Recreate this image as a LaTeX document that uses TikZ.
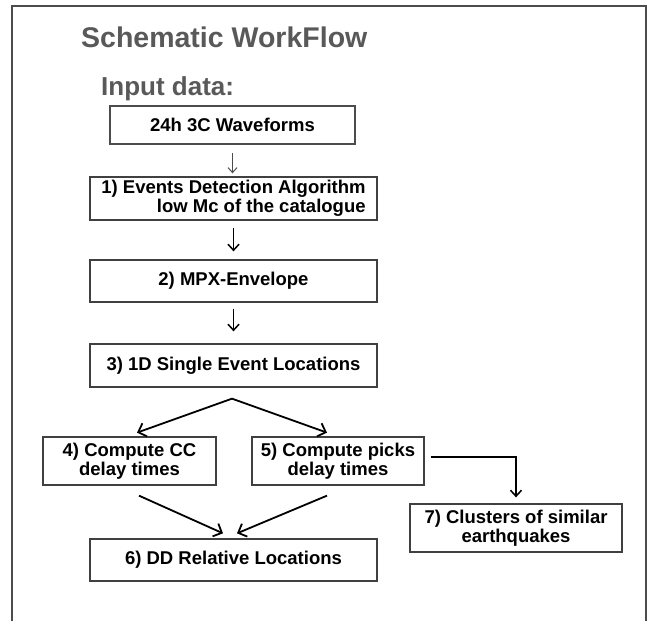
\documentclass[tikz,border=0pt]{standalone}
\usepackage{fontspec}
\setmainfont{Liberation Sans}
\usetikzlibrary{calc,arrows.meta}

\begin{document}
\begin{tikzpicture}[x=1pt,y=-1pt,
  box/.style={draw=black!75,line width=1.3pt,inner sep=0pt,align=center,
    font=\fontsize{18.5}{19.5}\selectfont\bfseries},
  head/.style={text=black!65,inner sep=0pt,anchor=base west,
    font=\fontsize{28.5}{30}\selectfont\bfseries},
  arr/.style={line width=1.5pt,-{Straight Barb[length=6pt,width=11pt]}},
  arrd/.style={line width=1.8pt,-{Straight Barb[length=7pt,width=14pt]}}]
\useasboundingbox (0,0) rectangle (649,621);
\draw[line width=2pt,black!70] (12,621)--(12,6)--(646,6)--(646,621);
\node[head] (title) at (81,47) {Schematic WorkFlow};
\node[head,font=\fontsize{26}{28}\selectfont\bfseries] (input) at (101,95) {Input data:};
% main chain
\node[box,line width=2pt,draw=black!70,minimum width=245,minimum height=38] (wave) at (232.5,125) {24h 3C Waveforms};
\node[box,align=right,minimum width=287,minimum height=43] (detect) at (233.5,198.5) {1) Events Detection Algorithm\\low Mc of the catalogue};
\node[box,minimum width=287,minimum height=42] (mpx) at (233.5,281) {2) MPX-Envelope};
\node[box,minimum width=287,minimum height=43] (loc) at (233.5,365.5) {3) 1D Single Event Locations};
\node[box,minimum width=173,minimum height=48] (cc) at (129.5,461) {4) Compute CC\\delay times};
\node[box,minimum width=172,minimum height=48] (picks) at (338,461) {5) Compute picks\\delay times};
\node[box,minimum width=287,minimum height=42] (dd) at (233.5,560) {6) DD Relative Locations};
\node[box,minimum width=212,minimum height=48] (clus) at (516,528) {7) Clusters of similar\\earthquakes};
% connectors
\draw[line width=1pt,black!70,-{Straight Barb[length=5pt,width=9pt]},shorten <=8pt,shorten >=3pt] (wave.south) -- (wave.south |- detect.north);
\draw[arr,shorten <=7pt,shorten >=8pt] (detect.south) -- (mpx.north);
\draw[arr,shorten <=6pt,shorten >=12pt] (mpx.south) -- (loc.north);
\coordinate (fork) at ($(loc.south)+(-1.5,11)$);
\coordinate (ccin) at ($(fork)+(-95,34)$);
\coordinate (pkin) at ($(fork)+(95,34)$);
\draw[arrd] (fork) -- (ccin);
\draw[arrd] (fork) -- (pkin);
\draw[arrd] ($(cc.south)+(9.5,10)$) -- ($(dd.north)+(-10.5,-5)$);
\draw[arrd] ($(picks.south)+(-11,10)$) -- ($(dd.north)+(3.5,-5)$);
\draw[arr,shorten <=6pt,shorten >=6pt] ($(picks.east)+(0,-4)$) -| (clus.north);
\end{tikzpicture}
\end{document}
